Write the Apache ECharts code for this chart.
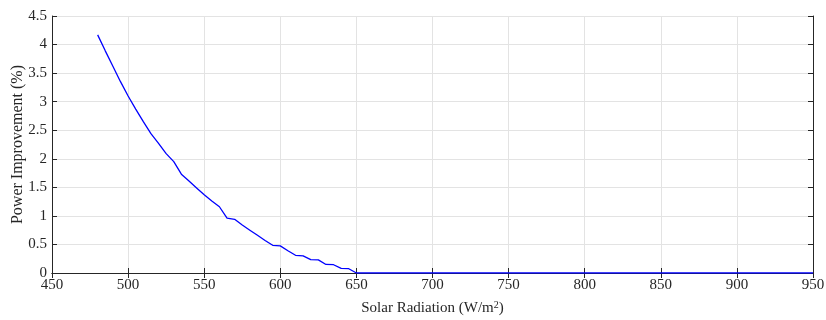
<!DOCTYPE html>
<html><head><meta charset="utf-8">
<script src="https://cdn.jsdelivr.net/npm/echarts@6/dist/echarts.min.js"></script>
<style>html,body{margin:0;padding:0;background:#fff}#c{width:826px;height:320px}</style>
</head><body><div id="c"></div>
<script>
const radiation = [480,485,490,495,500,505,510,515,520,525,530,535,540,545,550,555,560,565,570,575,580,585,590,595,600,605,610,615,620,625,630,635,640,645,650,655,660,670,680,690,700,710,720,730,740,750,760,770,780,790,800,810,820,830,840,850,860,870,880,890,900,910,920,930,940,950];
const improvement = [4.17,3.89,3.62,3.35,3.10,2.87,2.65,2.44,2.27,2.09,1.95,1.73,1.61,1.49,1.37,1.26,1.16,0.96,0.94,0.84,0.75,0.66,0.57,0.485,0.475,0.39,0.31,0.30,0.235,0.23,0.15,0.145,0.08,0.075,0,0,0,0,0,0,0,0,0,0,0,0,0,0,0,0,0,0,0,0,0,0,0,0,0,0,0,0,0,0,0,0];
const xTicks = [450,500,550,600,650,700,750,800,850,900,950];
const yTicks = [0,0.5,1,1.5,2,2.5,3,3.5,4,4.5];
const xName = 'Solar Radiation (W/m{sup|2})';
const yName = 'Power Improvement (%)';

const font = 'Liberation Serif, Times New Roman, serif';
const chart = echarts.init(document.getElementById('c'));
const axLine = {show:true, lineStyle:{color:'#262626', width:1}};
chart.setOption({
  animation:false,
  grid:{left:52, right:13, top:16, bottom:47, containLabel:false, outerBoundsMode:'none'},
  xAxis:[{
    type:'value', min:450, max:950, interval:50,
    axisLine:axLine,
    axisTick:{show:true, inside:true, length:5, lineStyle:{color:'#262626'}},
    axisLabel:{color:'#262626', fontFamily:font, fontSize:15, margin:5,
      formatter:v=>xTicks.includes(v)?String(v):''},
    splitLine:{show:true, lineStyle:{color:'#e3e3e3', width:1}},
    name:xName, nameLocation:'middle', nameGap:27, nameMoveOverlap:false,
    nameTextStyle:{color:'#262626', fontFamily:font, fontSize:15,
      rich:{sup:{fontSize:10, fontFamily:font, color:'#262626', verticalAlign:'top', padding:[0,0,7,0]}}}
  },{
    type:'value', position:'top', min:450, max:950, interval:50,
    axisLine:axLine,
    axisTick:{show:true, inside:true, length:5, lineStyle:{color:'#262626'}},
    axisLabel:{show:false}, splitLine:{show:false}
  }],
  yAxis:[{
    type:'value', min:0, max:4.5, interval:0.5,
    axisLine:axLine,
    axisTick:{show:true, inside:true, length:5, lineStyle:{color:'#262626'}},
    axisLabel:{color:'#262626', fontFamily:font, fontSize:15, margin:5,
      formatter:v=>{const t=yTicks.find(k=>Math.abs(k-v)<1e-9);return t===undefined?'':String(t);}},
    splitLine:{show:true, lineStyle:{color:'#e3e3e3', width:1}},
    name:yName, nameLocation:'middle', nameGap:26, nameRotate:90, nameMoveOverlap:false,
    nameTextStyle:{color:'#262626', fontFamily:font, fontSize:16}
  },{
    type:'value', position:'right', min:0, max:4.5, interval:0.5,
    axisLine:axLine,
    axisTick:{show:true, inside:true, length:5, lineStyle:{color:'#262626'}},
    axisLabel:{show:false}, splitLine:{show:false}
  }],
  series:[{
    type:'line', xAxisIndex:0, yAxisIndex:0,
    data:radiation.map((x,i)=>[x,improvement[i]]),
    showSymbol:false, symbol:'none',
    lineStyle:{color:'#0000ff', width:1.3}
  }]
});
</script></body></html>
